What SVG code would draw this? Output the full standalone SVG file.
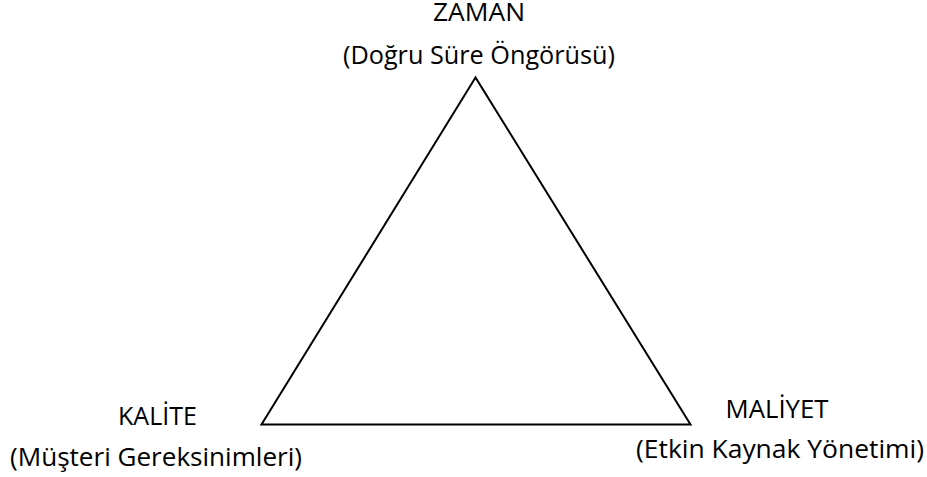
<svg xmlns="http://www.w3.org/2000/svg" width="927" height="477" viewBox="0 0 927 477">
  <style>
    .lbl { font-family: "Open Sans", "Liberation Sans", sans-serif; font-size: 25.5px; fill: #000; }
    .edge { fill: none; stroke: #000; stroke-width: 2; stroke-linejoin: miter; }
  </style>
  <rect width="927" height="477" fill="#fff"/>
  <g id="connectors">
    <polygon class="edge" points="475.5,77.5 261.5,424.5 690.5,424.5"/>
  </g>
  <g id="zaman">
    <text class="lbl" x="479" y="20.5" text-anchor="middle" textLength="92" lengthAdjust="spacingAndGlyphs">ZAMAN</text>
    <text class="lbl" x="479" y="63.5" text-anchor="middle" textLength="272" lengthAdjust="spacingAndGlyphs">(Doğru Süre Öngörüsü)</text>
  </g>
  <g id="kalite">
    <text class="lbl" x="157.5" y="424.5" text-anchor="middle" textLength="79" lengthAdjust="spacingAndGlyphs">KALİTE</text>
    <text class="lbl" x="156" y="466" text-anchor="middle" textLength="292" lengthAdjust="spacingAndGlyphs">(Müşteri Gereksinimleri)</text>
  </g>
  <g id="maliyet">
    <text class="lbl" x="777" y="417.5" text-anchor="middle" textLength="103" lengthAdjust="spacingAndGlyphs">MALİYET</text>
    <text class="lbl" x="780" y="458" text-anchor="middle" textLength="288" lengthAdjust="spacingAndGlyphs">(Etkin Kaynak Yönetimi)</text>
  </g>
</svg>
